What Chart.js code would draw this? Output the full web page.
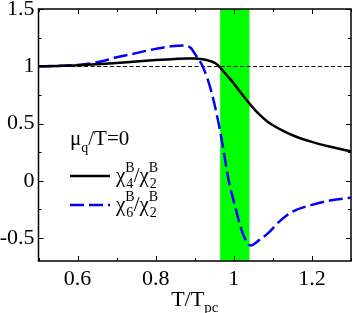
<!DOCTYPE html>
<html>
<head>
<meta charset="utf-8">
<script src="https://cdn.jsdelivr.net/npm/chart.js@4/dist/chart.umd.min.js"></script>
<style>
  html, body { margin: 0; padding: 0; background: #fff; }
  #wrap { width: 354px; height: 313px; }
</style>
</head>
<body>
<div id="wrap"><canvas id="chart"></canvas></div>
<script>
// chi4/chi2 and chi6/chi2 vs T/Tpc, mu_q/T = 0

const chi4T = [0.5, 0.55, 0.6, 0.65, 0.7, 0.75, 0.8, 0.85, 0.88, 0.9, 0.92, 0.94, 0.953, 0.962, 0.98, 1.0, 1.013, 1.04, 1.055, 1.07, 1.085, 1.1, 1.13, 1.16, 1.2, 1.25, 1.3];
const chi4 = [1.0, 1.003, 1.008, 1.017, 1.028, 1.042, 1.054, 1.064, 1.068, 1.068, 1.062, 1.045, 1.026, 1.0, 0.93, 0.85, 0.79, 0.675, 0.615, 0.565, 0.52, 0.485, 0.43, 0.385, 0.34, 0.295, 0.257];

const chi6T = [0.5, 0.55, 0.6, 0.65, 0.7, 0.75, 0.8, 0.84, 0.87, 0.89, 0.9, 0.92, 0.94, 0.96, 0.974, 0.987, 1.0, 1.02, 1.034, 1.043, 1.064, 1.09, 1.115, 1.15, 1.2, 1.25, 1.3];
const chi6 = [1.0, 1.003, 1.012, 1.035, 1.078, 1.115, 1.152, 1.175, 1.182, 1.16, 1.11, 1.0, 0.81, 0.52, 0.26, 0.0, -0.18, -0.43, -0.54, -0.565, -0.52, -0.45, -0.36, -0.27, -0.21, -0.17, -0.147];

const xTicks = [0.6, 0.8, 1, 1.2];
const yTicks = [-0.5, 0, 0.5, 1, 1.5];
const band = [0.965, 1.04];
const refLine = 1;

const serif = "'Liberation Serif', 'DejaVu Serif', serif";

function pts(xs, ys) {
  return xs.map((x, i) => ({ x: x, y: ys[i] }));
}

// green band + y=1 dashed line behind the curves
const bandPlugin = {
  id: "band",
  beforeDatasetsDraw(chart) {
    const ctx = chart.ctx, a = chart.chartArea;
    const xs = chart.scales.x, ys = chart.scales.y;
    ctx.save();
    ctx.fillStyle = "#00ff00";
    const x0 = xs.getPixelForValue(band[0]);
    const x1 = xs.getPixelForValue(band[1]);
    ctx.fillRect(x0, a.top, x1 - x0, a.bottom - a.top);
    ctx.strokeStyle = "#000";
    ctx.lineWidth = 1;
    ctx.setLineDash([4, 2.5]);
    const y1 = Math.round(ys.getPixelForValue(refLine)) + 0.5;
    ctx.beginPath();
    ctx.moveTo(a.left, y1);
    ctx.lineTo(a.right, y1);
    ctx.stroke();
    ctx.restore();
  },
};

// frame with inward major/minor ticks, axis title, legend
function drawChi(ctx, x, base, n) {
  ctx.font = "21px " + serif;
  ctx.fillText("\u03c7", x, base);
  x += ctx.measureText("\u03c7").width;
  ctx.font = "14px " + serif;
  ctx.fillText("B", x, base - 10);
  ctx.fillText(n, x + 1, base + 6);
  return x + ctx.measureText("B").width;
}

function drawRatio(ctx, x, base, n) {
  x = drawChi(ctx, x, base, n);
  ctx.font = "21px " + serif;
  ctx.fillText("/", x - 1, base);
  x += ctx.measureText("/").width - 1;
  drawChi(ctx, x, base, "2");
}

const framePlugin = {
  id: "frame",
  afterDatasetsDraw(chart) {
    const ctx = chart.ctx, a = chart.chartArea;
    const xs = chart.scales.x, ys = chart.scales.y;
    ctx.save();
    ctx.strokeStyle = "#000";
    ctx.lineWidth = 1.5;
    ctx.setLineDash([]);
    ctx.strokeRect(a.left, a.top, a.right - a.left, a.bottom - a.top);

    ctx.lineWidth = 1;
    ctx.beginPath();
    for (let v = 0.5; v <= 1.3001; v += 0.1) {
      const px = Math.round(xs.getPixelForValue(v)) + 0.5;
      const major = xTicks.some((t) => Math.abs(t - v) < 1e-6);
      const len = major ? 5 : 3;
      ctx.moveTo(px, a.bottom);
      ctx.lineTo(px, a.bottom - len);
      ctx.moveTo(px, a.top);
      ctx.lineTo(px, a.top + len);
    }
    for (let v = -0.5; v <= 1.5001; v += 0.25) {
      const py = Math.round(ys.getPixelForValue(v)) + 0.5;
      const major = yTicks.some((t) => Math.abs(t - v) < 1e-6);
      const len = major ? 5 : 3;
      ctx.moveTo(a.left, py);
      ctx.lineTo(a.left + len, py);
      ctx.moveTo(a.right, py);
      ctx.lineTo(a.right - len, py);
    }
    ctx.stroke();

    // x axis title T/T_pc
    ctx.fillStyle = "#000";
    ctx.textBaseline = "alphabetic";
    ctx.textAlign = "left";
    ctx.font = "22px " + serif;
    const w1 = ctx.measureText("T/T").width;
    ctx.font = "15px " + serif;
    const w2 = ctx.measureText("pc").width;
    const cx = (a.left + a.right) / 2;
    let tx = cx - (w1 + w2) / 2;
    ctx.font = "22px " + serif;
    ctx.fillText("T/T", tx, 306);
    ctx.font = "15px " + serif;
    ctx.fillText("pc", tx + w1, 312);

    // legend
    ctx.font = "21px " + serif;
    ctx.fillText("\u03bc", 70, 145);
    let lx = 70 + ctx.measureText("\u03bc").width;
    ctx.font = "14px " + serif;
    ctx.fillText("q", lx, 152);
    lx += ctx.measureText("q").width;
    ctx.font = "21px " + serif;
    ctx.fillText("/T=0", lx, 145);

    ctx.lineWidth = 2.5;
    ctx.strokeStyle = "#000";
    ctx.beginPath();
    ctx.moveTo(70, 176);
    ctx.lineTo(110, 176);
    ctx.stroke();
    drawRatio(ctx, 116, 182, "4");

    ctx.strokeStyle = "#0000ff";
    ctx.setLineDash([14, 5]);
    ctx.beginPath();
    ctx.moveTo(70, 205);
    ctx.lineTo(110, 205);
    ctx.stroke();
    ctx.setLineDash([]);
    drawRatio(ctx, 116, 211, "6");
    ctx.restore();
  },
};

const data = {
  datasets: [
    {
      label: "chi4/chi2",
      data: pts(chi4T, chi4),
      borderColor: "#000000",
      borderWidth: 2.5,
      pointRadius: 0,
      cubicInterpolationMode: "monotone",
    },
    {
      label: "chi6/chi2",
      data: pts(chi6T, chi6),
      borderColor: "#0000ff",
      borderWidth: 2.5,
      borderDash: [14, 5],
      pointRadius: 0,
      cubicInterpolationMode: "monotone",
    },
  ],
};

const options = {
  responsive: true,
  maintainAspectRatio: false,
  animation: { duration: 0 },
  layout: { padding: { top: 9, right: 3, left: 0, bottom: 0 } },
  plugins: {
    legend: { display: false },
    tooltip: { enabled: false },
  },
  scales: {
    x: {
      type: "linear",
      min: 0.5,
      max: 1.3,
      grid: { display: false, drawTicks: false },
      border: { display: false },
      afterBuildTicks: (s) => { s.ticks = xTicks.map((v) => ({ value: v })); },
      afterFit: (s) => { s.height = 52; s.paddingLeft = 0; s.paddingRight = 0; },
      ticks: {
        padding: 5,
        color: "#000",
        font: { family: serif, size: 22 },
        callback: (v) => String(v),
        maxRotation: 0,
      },
    },
    y: {
      min: -0.7,
      max: 1.5,
      grid: { display: false, drawTicks: false },
      border: { display: false },
      afterBuildTicks: (s) => { s.ticks = yTicks.map((v) => ({ value: v })); },
      afterFit: (s) => { s.width = 38.5; s.paddingTop = 0; s.paddingBottom = 0; },
      ticks: {
        padding: 4,
        color: "#000",
        font: { family: serif, size: 22 },
        callback: (v) => String(v),
      },
    },
  },
};

var chart = new Chart(document.getElementById("chart").getContext("2d"), {
  type: "line",
  data: data,
  options: options,
  plugins: [bandPlugin, framePlugin],
});
</script>
</body>
</html>
